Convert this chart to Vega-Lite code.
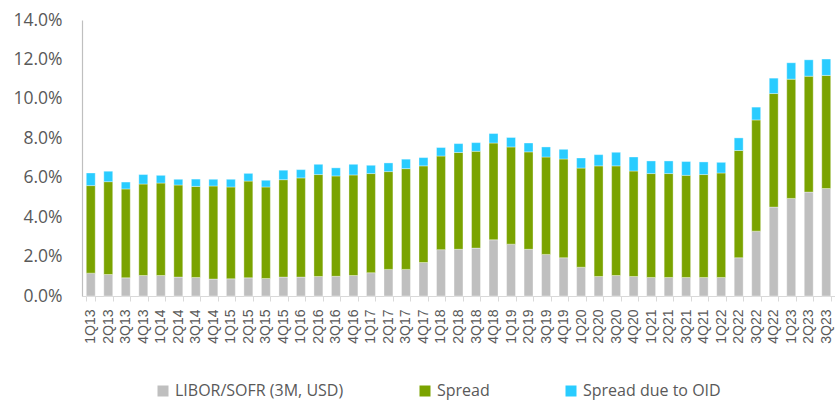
{
  "$schema": "https://vega.github.io/schema/vega-lite/v6.json",
  "autosize": "none",
  "width": 753,
  "height": 276,
  "padding": {"left": 82, "top": 20, "right": 0, "bottom": 105},
  "background": "white",
  "data": {"values": [
    {"q":"1Q13","s":"LIBOR/SOFR (3M, USD)","v":1.16},{"q":"1Q13","s":"Spread","v":4.44},{"q":"1Q13","s":"Spread due to OID","v":0.64},
    {"q":"2Q13","s":"LIBOR/SOFR (3M, USD)","v":1.09},{"q":"2Q13","s":"Spread","v":4.71},{"q":"2Q13","s":"Spread due to OID","v":0.53},
    {"q":"3Q13","s":"LIBOR/SOFR (3M, USD)","v":0.92},{"q":"3Q13","s":"Spread","v":4.51},{"q":"3Q13","s":"Spread due to OID","v":0.35},
    {"q":"4Q13","s":"LIBOR/SOFR (3M, USD)","v":1.04},{"q":"4Q13","s":"Spread","v":4.64},{"q":"4Q13","s":"Spread due to OID","v":0.48},
    {"q":"1Q14","s":"LIBOR/SOFR (3M, USD)","v":1.04},{"q":"1Q14","s":"Spread","v":4.69},{"q":"1Q14","s":"Spread due to OID","v":0.39},
    {"q":"2Q14","s":"LIBOR/SOFR (3M, USD)","v":0.96},{"q":"2Q14","s":"Spread","v":4.67},{"q":"2Q14","s":"Spread due to OID","v":0.29},
    {"q":"3Q14","s":"LIBOR/SOFR (3M, USD)","v":0.94},{"q":"3Q14","s":"Spread","v":4.62},{"q":"3Q14","s":"Spread due to OID","v":0.37},
    {"q":"4Q14","s":"LIBOR/SOFR (3M, USD)","v":0.86},{"q":"4Q14","s":"Spread","v":4.72},{"q":"4Q14","s":"Spread due to OID","v":0.34},
    {"q":"1Q15","s":"LIBOR/SOFR (3M, USD)","v":0.87},{"q":"1Q15","s":"Spread","v":4.66},{"q":"1Q15","s":"Spread due to OID","v":0.39},
    {"q":"2Q15","s":"LIBOR/SOFR (3M, USD)","v":0.92},{"q":"2Q15","s":"Spread","v":4.91},{"q":"2Q15","s":"Spread due to OID","v":0.39},
    {"q":"3Q15","s":"LIBOR/SOFR (3M, USD)","v":0.89},{"q":"3Q15","s":"Spread","v":4.64},{"q":"3Q15","s":"Spread due to OID","v":0.34},
    {"q":"4Q15","s":"LIBOR/SOFR (3M, USD)","v":0.96},{"q":"4Q15","s":"Spread","v":4.94},{"q":"4Q15","s":"Spread due to OID","v":0.48},
    {"q":"1Q16","s":"LIBOR/SOFR (3M, USD)","v":0.96},{"q":"1Q16","s":"Spread","v":5.03},{"q":"1Q16","s":"Spread due to OID","v":0.42},
    {"q":"2Q16","s":"LIBOR/SOFR (3M, USD)","v":0.99},{"q":"2Q16","s":"Spread","v":5.17},{"q":"2Q16","s":"Spread due to OID","v":0.52},
    {"q":"3Q16","s":"LIBOR/SOFR (3M, USD)","v":1.00},{"q":"3Q16","s":"Spread","v":5.09},{"q":"3Q16","s":"Spread due to OID","v":0.41},
    {"q":"4Q16","s":"LIBOR/SOFR (3M, USD)","v":1.04},{"q":"4Q16","s":"Spread","v":5.10},{"q":"4Q16","s":"Spread due to OID","v":0.54},
    {"q":"1Q17","s":"LIBOR/SOFR (3M, USD)","v":1.18},{"q":"1Q17","s":"Spread","v":5.03},{"q":"1Q17","s":"Spread due to OID","v":0.42},
    {"q":"2Q17","s":"LIBOR/SOFR (3M, USD)","v":1.35},{"q":"2Q17","s":"Spread","v":4.96},{"q":"2Q17","s":"Spread due to OID","v":0.44},
    {"q":"3Q17","s":"LIBOR/SOFR (3M, USD)","v":1.35},{"q":"3Q17","s":"Spread","v":5.11},{"q":"3Q17","s":"Spread due to OID","v":0.48},
    {"q":"4Q17","s":"LIBOR/SOFR (3M, USD)","v":1.70},{"q":"4Q17","s":"Spread","v":4.90},{"q":"4Q17","s":"Spread due to OID","v":0.42},
    {"q":"1Q18","s":"LIBOR/SOFR (3M, USD)","v":2.35},{"q":"1Q18","s":"Spread","v":4.75},{"q":"1Q18","s":"Spread due to OID","v":0.43},
    {"q":"2Q18","s":"LIBOR/SOFR (3M, USD)","v":2.37},{"q":"2Q18","s":"Spread","v":4.91},{"q":"2Q18","s":"Spread due to OID","v":0.45},
    {"q":"3Q18","s":"LIBOR/SOFR (3M, USD)","v":2.43},{"q":"3Q18","s":"Spread","v":4.91},{"q":"3Q18","s":"Spread due to OID","v":0.44},
    {"q":"4Q18","s":"LIBOR/SOFR (3M, USD)","v":2.85},{"q":"4Q18","s":"Spread","v":4.91},{"q":"4Q18","s":"Spread due to OID","v":0.48},
    {"q":"1Q19","s":"LIBOR/SOFR (3M, USD)","v":2.63},{"q":"1Q19","s":"Spread","v":4.93},{"q":"1Q19","s":"Spread due to OID","v":0.48},
    {"q":"2Q19","s":"LIBOR/SOFR (3M, USD)","v":2.37},{"q":"2Q19","s":"Spread","v":4.94},{"q":"2Q19","s":"Spread due to OID","v":0.45},
    {"q":"3Q19","s":"LIBOR/SOFR (3M, USD)","v":2.11},{"q":"3Q19","s":"Spread","v":4.94},{"q":"3Q19","s":"Spread due to OID","v":0.51},
    {"q":"4Q19","s":"LIBOR/SOFR (3M, USD)","v":1.94},{"q":"4Q19","s":"Spread","v":5.01},{"q":"4Q19","s":"Spread due to OID","v":0.49},
    {"q":"1Q20","s":"LIBOR/SOFR (3M, USD)","v":1.46},{"q":"1Q20","s":"Spread","v":5.03},{"q":"1Q20","s":"Spread due to OID","v":0.51},
    {"q":"2Q20","s":"LIBOR/SOFR (3M, USD)","v":0.99},{"q":"2Q20","s":"Spread","v":5.61},{"q":"2Q20","s":"Spread due to OID","v":0.57},
    {"q":"3Q20","s":"LIBOR/SOFR (3M, USD)","v":1.04},{"q":"3Q20","s":"Spread","v":5.56},{"q":"3Q20","s":"Spread due to OID","v":0.69},
    {"q":"4Q20","s":"LIBOR/SOFR (3M, USD)","v":0.99},{"q":"4Q20","s":"Spread","v":5.35},{"q":"4Q20","s":"Spread due to OID","v":0.71},
    {"q":"1Q21","s":"LIBOR/SOFR (3M, USD)","v":0.94},{"q":"1Q21","s":"Spread","v":5.27},{"q":"1Q21","s":"Spread due to OID","v":0.64},
    {"q":"2Q21","s":"LIBOR/SOFR (3M, USD)","v":0.94},{"q":"2Q21","s":"Spread","v":5.27},{"q":"2Q21","s":"Spread due to OID","v":0.64},
    {"q":"3Q21","s":"LIBOR/SOFR (3M, USD)","v":0.94},{"q":"3Q21","s":"Spread","v":5.18},{"q":"3Q21","s":"Spread due to OID","v":0.70},
    {"q":"4Q21","s":"LIBOR/SOFR (3M, USD)","v":0.94},{"q":"4Q21","s":"Spread","v":5.22},{"q":"4Q21","s":"Spread due to OID","v":0.64},
    {"q":"1Q22","s":"LIBOR/SOFR (3M, USD)","v":0.94},{"q":"1Q22","s":"Spread","v":5.30},{"q":"1Q22","s":"Spread due to OID","v":0.54},
    {"q":"2Q22","s":"LIBOR/SOFR (3M, USD)","v":1.94},{"q":"2Q22","s":"Spread","v":5.44},{"q":"2Q22","s":"Spread due to OID","v":0.64},
    {"q":"3Q22","s":"LIBOR/SOFR (3M, USD)","v":3.29},{"q":"3Q22","s":"Spread","v":5.64},{"q":"3Q22","s":"Spread due to OID","v":0.65},
    {"q":"4Q22","s":"LIBOR/SOFR (3M, USD)","v":4.51},{"q":"4Q22","s":"Spread","v":5.76},{"q":"4Q22","s":"Spread due to OID","v":0.78},
    {"q":"1Q23","s":"LIBOR/SOFR (3M, USD)","v":4.95},{"q":"1Q23","s":"Spread","v":6.05},{"q":"1Q23","s":"Spread due to OID","v":0.83},
    {"q":"2Q23","s":"LIBOR/SOFR (3M, USD)","v":5.27},{"q":"2Q23","s":"Spread","v":5.88},{"q":"2Q23","s":"Spread due to OID","v":0.83},
    {"q":"3Q23","s":"LIBOR/SOFR (3M, USD)","v":5.45},{"q":"3Q23","s":"Spread","v":5.74},{"q":"3Q23","s":"Spread due to OID","v":0.83}
  ]},
  "mark": {"type": "bar", "stroke": "#ffffff", "strokeWidth": 0.5, "strokeOpacity": 0.7},
  "encoding": {
    "x": {
      "field": "q", "type": "nominal", "sort": null,
      "scale": {"paddingInner": 0.49, "paddingOuter": 0.245},
      "axis": {
        "title": null, "labelAngle": 270, "labelAlign": "right", "labelBaseline": "middle",
        "labelFont": "Liberation Sans", "labelFontSize": 14, "labelColor": "#595959",
        "labelPadding": 8, "tickBand": "extent", "tickSize": 5, "tickColor": "#d9d9d9",
        "domainColor": "#d9d9d9", "domainWidth": 1, "grid": false
      }
    },
    "y": {
      "field": "v", "type": "quantitative", "stack": "zero",
      "scale": {"domain": [0, 14], "nice": false},
      "axis": {
        "title": null, "values": [0, 2, 4, 6, 8, 10, 12, 14],
        "labelExpr": "format(datum.value, '.1f') + '%'",
        "labelFont": "Open Sans", "labelFontSize": 17.5, "labelColor": "#595959",
        "ticks": false, "labelPadding": 20, "domainColor": "#bfbfbf", "domainWidth": 1.2, "grid": false
      }
    },
    "order": {"field": "s", "sort": "ascending"},
    "color": {
      "field": "s", "type": "nominal",
      "scale": {"domain": ["LIBOR/SOFR (3M, USD)", "Spread", "Spread due to OID"], "range": ["#BFBFBF", "#7AA300", "#29CCFF"]},
      "legend": {
        "title": null, "orient": "none", "direction": "horizontal", "legendX": 73, "legendY": 363,
        "symbolType": "square", "symbolSize": 121, "symbolStrokeWidth": 0, "symbolOpacity": 1,
        "labelFont": "Open Sans", "labelFontSize": 16, "labelColor": "#595959", "labelLimit": 400,
        "labelOffset": 4, "columnPadding": 73, "padding": 0
      }
    }
  },
  "config": {"view": {"stroke": null}}
}
